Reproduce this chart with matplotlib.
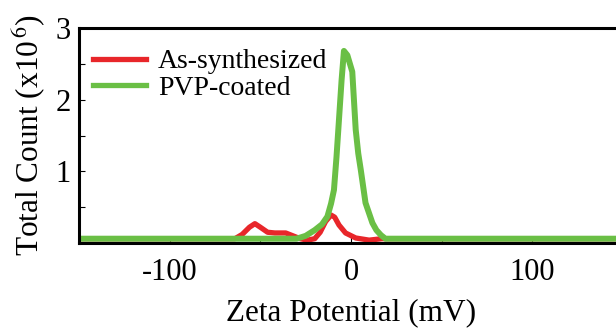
import matplotlib
matplotlib.use("Agg")
import matplotlib.pyplot as plt
from matplotlib.ticker import MultipleLocator

plt.rcParams["font.family"] = ["Liberation Serif", "DejaVu Serif"]
plt.rcParams["mathtext.fontset"] = "stix"
plt.rcParams["axes.unicode_minus"] = False

# zeta potential distributions (mV vs counts x1e6)
x_red = [-150, -64, -60, -56, -53, -50, -46, -42, -36, -32, -28, -24, -20,
         -17, -14, -11, -9, -6.6, -3, 2.6, 10, 17, 150]
y_red = [0.06, 0.06, 0.12, 0.22, 0.27, 0.22, 0.15, 0.14, 0.14, 0.10, 0.06,
         0.04, 0.06, 0.15, 0.30, 0.39, 0.36, 0.25, 0.14, 0.07, 0.04, 0.06, 0.06]

x_green = [-150, -30, -25, -20, -16, -13, -11, -9.4, -8, -7, -5.2, -3.9, -2,
           0, 0.7, 2.6, 4, 5.4, 8, 11.8, 14, 16.5, 19, 150]
y_green = [0.06, 0.06, 0.10, 0.18, 0.26, 0.37, 0.55, 0.74, 1.20, 1.58, 2.27,
           2.68, 2.62, 2.45, 2.39, 1.58, 1.25, 1.02, 0.56, 0.28, 0.18, 0.11,
           0.06, 0.06]

labels = ["As-synthesized", "PVP-coated"]
colors = ["#e8262a", "#6abf45"]

fig = plt.figure(figsize=(6.16, 3.28), dpi=100)
ax = fig.add_axes([79 / 616, 85 / 328, 544 / 616, 215 / 328])

ax.plot(x_red, y_red, color=colors[0], lw=3.8, label=labels[0],
        solid_joinstyle="round")
ax.plot(x_green, y_green, color=colors[1], lw=4.3, label=labels[1],
        solid_joinstyle="round")

ax.set_xlim(-150, 150)
ax.set_ylim(0, 3)
ax.set_xticks([-100, 0, 100])
ax.xaxis.set_minor_locator(MultipleLocator(50))
ax.set_yticks([1, 2, 3])
ax.yaxis.set_minor_locator(MultipleLocator(0.5))
ax.tick_params(which="both", direction="in", width=0.8, length=4,
               labelsize=22)
ax.tick_params(axis="x", pad=11)
ax.tick_params(axis="y", pad=6)
for s in ax.spines.values():
    s.set_linewidth(2.2)

ax.set_xlabel("Zeta Potential (mV)", fontsize=22.5, labelpad=8)
ax.set_ylabel(r"Total Count (x10$^{\,6}$)", fontsize=22.5, labelpad=5)

leg = ax.legend(loc="upper left", frameon=False, fontsize=20,
                handlelength=1.9, handletextpad=0.45, labelspacing=0.05,
                borderaxespad=0.0, bbox_to_anchor=(0.005, 0.955))
for h in leg.get_lines():
    h.set_linewidth(3.8)

fig.savefig("out.png", dpi=100)
